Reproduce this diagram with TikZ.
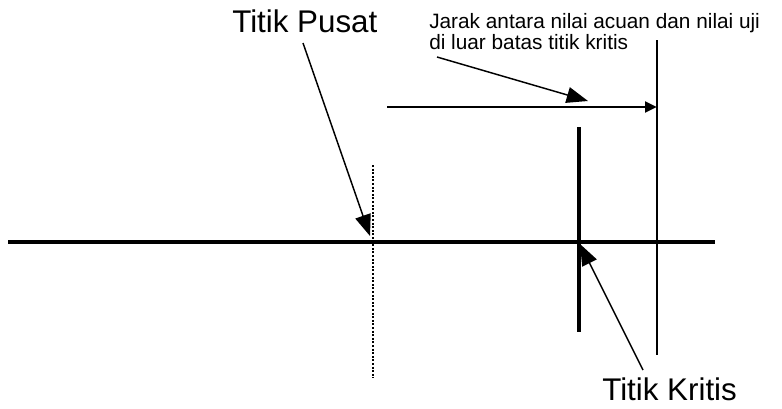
\documentclass[tikz,border=0pt]{standalone}
\usepackage{fontspec}
\setmainfont{Liberation Sans}
\usetikzlibrary{arrows.meta}
\begin{document}
\begin{tikzpicture}[x=0.75pt,y=-0.75pt,
  axisline/.style={line width=2.3pt},
  thinline/.style={line width=0.8pt},
  pointer/.style={line width=1.1pt,-{Triangle[length=16pt,width=12pt]}},
  lbl/.style={inner sep=0pt,anchor=base west},
]
\useasboundingbox (0,0) rectangle (782,408);
% axis
\coordinate (axL) at (8,242);
\coordinate (axR) at (715,242);
\draw[axisline] (axL) -- (axR);
% centre dotted line
\coordinate (cT) at (373,165);
\coordinate (cB) at (373,378);
\draw[line width=0.8pt,dash pattern=on 1.5pt off 1.2pt] (cT) -- (cB);
% critical thick vertical
\coordinate (kT) at (579,127);
\coordinate (kB) at (579,332);
\draw[line width=2.6pt] (kT) -- (kB);
% thin right vertical
\coordinate (rT) at (657,40);
\coordinate (rB) at (657,355);
\draw[thinline] (rT) -- (rB);
% distance arrow
\coordinate (dS) at (387,107);
\coordinate (dE) at (657,107);
\draw[line width=2.2pt,-{Triangle[length=9pt,width=8pt]}] (dS) -- (dE);
% labels
\node[lbl,font=\fontsize{23.5pt}{26pt}\selectfont] (pusat) at (232,32) {Titik Pusat};
\node[lbl,font=\fontsize{23.5pt}{26pt}\selectfont] (kritis) at (602,400) {Titik Kritis};
\node[inner sep=0pt,anchor=north west,align=left,font=\fontsize{15.6pt}{13.6pt}\selectfont] (jarak) at (429,13) {Jarak antara nilai acuan dan nilai uji\\di luar batas titik kritis};
% pointers
\coordinate (pS) at (303,43);
\coordinate (pE) at (370,236);
\draw[pointer] (pS) -- (pE);
\coordinate (jS) at (437,57);
\coordinate (jE) at (588,101);
\draw[pointer] (jS) -- (jE);
\coordinate (kS) at (643,370);
\coordinate (kE) at (580,244);
\draw[pointer] (kS) -- (kE);
\end{tikzpicture}
\end{document}
